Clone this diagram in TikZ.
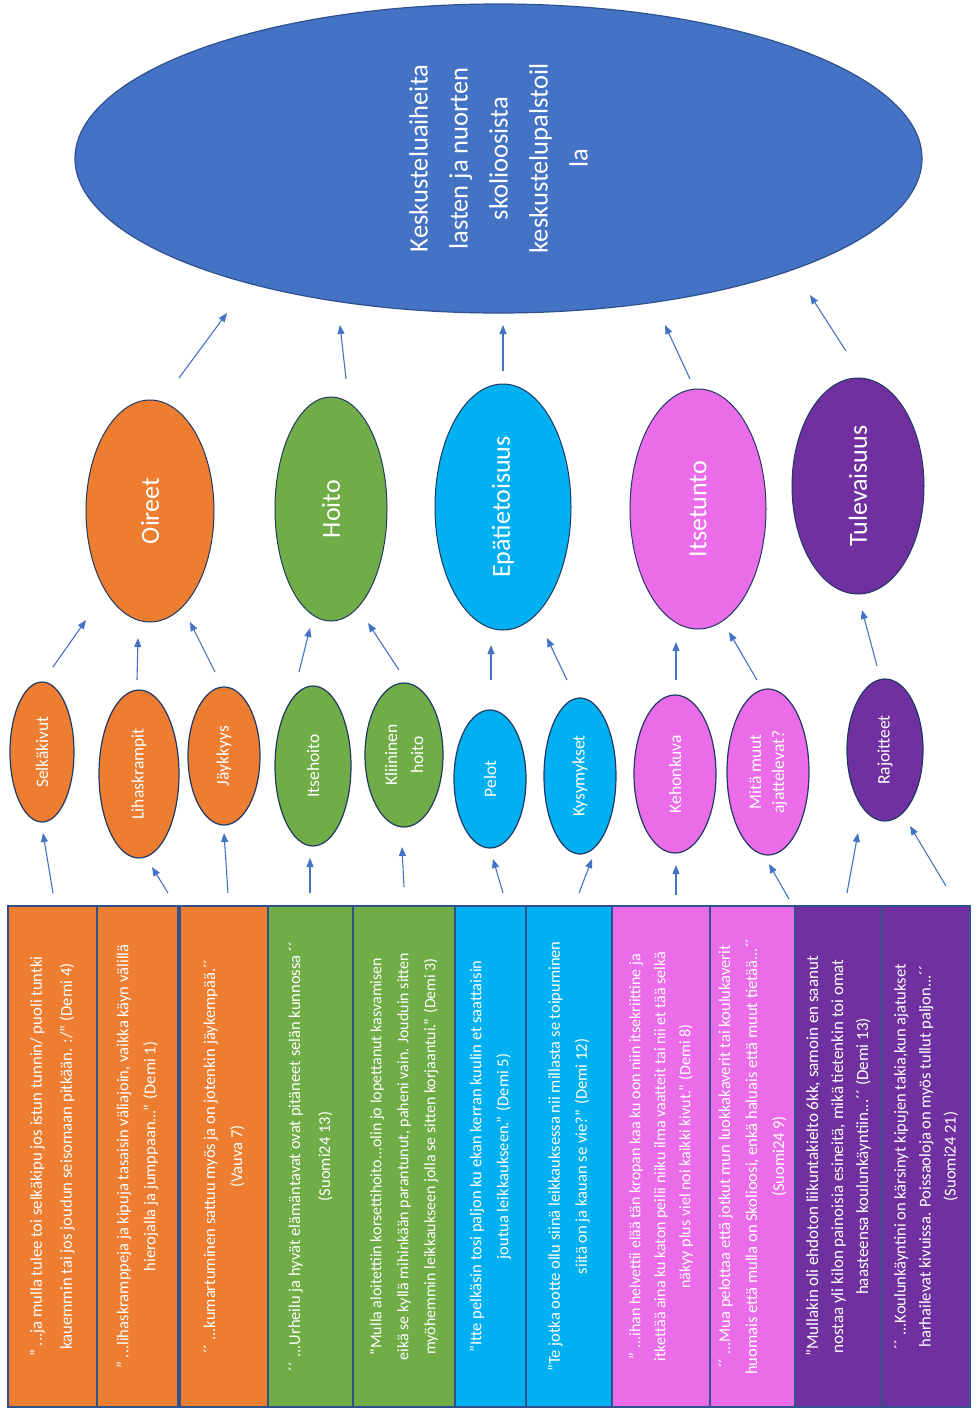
\documentclass[tikz,border=0pt]{standalone}
\usepackage{fontspec}
\setmainfont{Carlito}
\usetikzlibrary{arrows.meta,shapes.geometric}
\definecolor{corange}{HTML}{ED7D31}
\definecolor{cgreen}{HTML}{70AD47}
\definecolor{ccyan}{HTML}{00B0F0}
\definecolor{cpink}{HTML}{EB6CE8}
\definecolor{cpurple}{HTML}{7030A0}
\definecolor{cblue}{HTML}{4472C4}
\definecolor{cedge}{HTML}{2F528F}
\definecolor{cdark}{HTML}{203864}
\begin{document}
\begin{tikzpicture}[x=1pt,y=-1pt,
  arr/.style={draw=cblue, line width=1.1pt, -{Triangle[length=9pt,width=7pt]}},
  quotebox/.style={draw=cedge, line width=1.3pt, rotate=90, minimum width=501pt,
    text=white, align=center, font=\fontsize{16.5}{27}\selectfont, inner sep=0pt},
  smallell/.style={ellipse, draw=cdark, line width=1.2pt, rotate=90, text=white,
    align=center, font=\fontsize{17.5}{26}\selectfont, inner sep=0pt},
  midell/.style={ellipse, draw=cdark, line width=1pt, rotate=90, text=white,
    align=center, font=\fontsize{26}{30}\selectfont, inner sep=0pt},
  bigell/.style={ellipse, draw=cedge, line width=1.2pt, fill=cblue, rotate=90, text=white,
    align=center, font=\fontsize{26.5}{40}\selectfont, inner sep=0pt}
]
\useasboundingbox[fill=white] (0,0) rectangle (977,1417);

% big ellipse
\node[bigell, minimum width=309pt, minimum height=847pt] (top) at (498.5,158.5)
  {Keskusteluaiheita\\lasten ja nuorten\\skolioosista\\keskustelupalstoil\\la};

% mid ellipses
\node[midell, fill=corange, minimum width=222pt, minimum height=128pt] (oireet) at (150,511) {Oireet};
\node[midell, fill=cgreen, minimum width=224pt, minimum height=112pt] (hoito) at (331,509) {Hoito};
\node[midell, fill=ccyan, minimum width=246pt, minimum height=136pt] (epa) at (503,507) {Epätietoisuus};
\node[midell, fill=cpink, minimum width=240pt, minimum height=136pt] (itsetunto) at (698,509) {Itsetunto};
\node[midell, fill=cpurple, minimum width=216pt, minimum height=132pt] (tulev) at (858,486) {Tulevaisuus};

% small ellipses
\node[smallell, fill=corange, minimum width=140pt, minimum height=64pt] (selk) at (42,752) {Selkäkivut};
\node[smallell, fill=corange, minimum width=168pt, minimum height=80pt] (lihas) at (139,774) {Lihaskrampit};
\node[smallell, fill=corange, minimum width=138pt, minimum height=72pt] (jayk) at (224,756) {Jäykkyys};
\node[smallell, fill=cgreen, minimum width=160pt, minimum height=76pt] (itseh) at (313,766) {Itsehoito};
\node[smallell, fill=cgreen, minimum width=144pt, minimum height=78pt] (klin) at (404,755) {Kliininen\\hoito};
\node[smallell, fill=ccyan, minimum width=138pt, minimum height=72pt] (pelot) at (490,779) {Pelot};
\node[smallell, fill=ccyan, minimum width=156pt, minimum height=72pt] (kysy) at (580,776) {Kysymykset};
\node[smallell, fill=cpink, minimum width=158pt, minimum height=82pt] (keho) at (675,774) {Kehonkuva};
\node[smallell, fill=cpink, minimum width=166pt, minimum height=82pt, font=\fontsize{17.5}{23}\selectfont] (mita) at (768,772) {Mitä muut\\ajattelevat?};
\node[smallell, fill=cpurple, minimum width=142pt, minimum height=76pt] (raj) at (885,750) {Rajoitteet};

% quote boxes
\node[quotebox, fill=corange, minimum height=89pt, font=\fontsize{16.7}{30}\selectfont] (b1) at (52.5,1156.5)
  {” ...ja mulla tulee toi selkäkipu jos istun tunnin/ puoli tuntki\\kauemmin tai jos joudun seisomaan pitkään. :/” (Demi 4)};
\node[quotebox, fill=corange, minimum height=81pt] (b2) at (137.5,1156.5)
  {” ...lihaskramppeja ja kipuja tasaisin väliajoin, vaikka käyn välillä\\hierojalla ja jumppaan...” (Demi 1)};
\node[quotebox, fill=corange, minimum height=88pt] (b3) at (224,1156.5)
  {´´ ...kumartuminen sattuu myös ja on jotenkin jäykempää.´´\\(Vauva 7)};
\node[quotebox, fill=cgreen, minimum height=85pt, font=\fontsize{16.5}{30}\selectfont] (b4) at (310.5,1156.5)
  {´´ ...Urheilu ja hyvät elämäntavat ovat pitäneet selän kunnossa ´´\\(Suomi24 13)};
\node[quotebox, fill=cgreen, minimum height=102pt, font=\fontsize{16}{27}\selectfont] (b5) at (404,1156.5)
  {”Mulla aloitettiin korsettihoito...olin jo lopettanut kasvamisen\\eikä se kyllä mihinkään parantunut, paheni vain. Jouduin sitten\\myöhemmin leikkaukseen jolla se sitten korjaantui.” (Demi 3)};
\node[quotebox, fill=ccyan, minimum height=71pt] (b6) at (490.5,1156.5)
  {”Itte pelkäsin tosi paljon ku ekan kerran kuulin et saattaisin\\joutua leikkaukseen.” (Demi 5)};
\node[quotebox, fill=ccyan, minimum height=86pt] (b7) at (569,1156.5)
  {”Te jotka ootte ollu siinä leikkauksessa nii millasta se toipuminen\\siitä on ja kauan se vie?” (Demi 12)};
\node[quotebox, fill=cpink, minimum height=98pt, font=\fontsize{16}{25}\selectfont] (b8) at (661,1156.5)
  {” ...ihan helvettii elää tän kropan kaa ku oon niin itsekriittine ja\\itkettää aina ku katon peilii niiku ilma vaatteit tai nii et tää selkä\\näkyy plus viel noi kaikki kivut.” (Demi 8)};
\node[quotebox, fill=cpink, minimum height=85pt] (b9) at (752.5,1156.5)
  {´´ ...Mua pelottaa että jotkut mun luokkakaverit tai koulukaverit\\huomais että mulla on Skolioosi, enkä haluais että muut tietää...´´\\(Suomi24 9)};
\node[quotebox, fill=cpurple, minimum height=87pt, font=\fontsize{17}{25}\selectfont] (b10) at (838.5,1156.5)
  {”Mullakin oli ehdoton liikuntakielto 6kk, samoin en saanut\\nostaa yli kilon painoisia esineitä, mikä tietenkin toi omat\\haasteensa koulunkäyntiin...´´ (Demi 13)};
\node[quotebox, fill=cpurple, minimum height=88pt, font=\fontsize{16.5}{25}\selectfont] (b11) at (926,1156.5)
  {´´ ...Koulunkäyntini on kärsinyt kipujen takia,kun ajatukset\\harhailevat kivuissa. Poissaoloja on myös tullut paljon...´´\\(Suomi24 21)};

% arrow end points (free ends between nodes)
\coordinate (oireet-t) at (179,378);   \coordinate (top-h1) at (227,313);
\coordinate (hoito-t) at (346,379);    \coordinate (top-h2) at (340,325);
\coordinate (epa-t) at (503,371);      \coordinate (top-h3) at (503,325);
\coordinate (itsetunto-t) at (690,379);\coordinate (top-h4) at (665,325);
\coordinate (tulev-t) at (846,351);    \coordinate (top-h5) at (810,295);

\coordinate (selk-t) at (53,667);   \coordinate (oireet-h1) at (86,620);
\coordinate (lihas-t) at (137,680); \coordinate (oireet-h2) at (138,638);
\coordinate (jayk-t) at (215,672);  \coordinate (oireet-h3) at (190,622);
\coordinate (itseh-t) at (299,672); \coordinate (hoito-h1) at (310,628);
\coordinate (klin-t) at (399,670);  \coordinate (hoito-h2) at (368,623);
\coordinate (pelot-t) at (491,680); \coordinate (epa-h1) at (491,645);
\coordinate (kysy-t) at (567,680);  \coordinate (epa-h2) at (547,638);
\coordinate (keho-t) at (676,680);  \coordinate (itsetunto-h1) at (676,642);
\coordinate (mita-t) at (757,680);  \coordinate (itsetunto-h2) at (729,632);
\coordinate (raj-t) at (877,666);   \coordinate (tulev-h) at (862,610);

\coordinate (b1-t) at (53,893);   \coordinate (selk-h) at (43,833);
\coordinate (b2-t) at (168,893);  \coordinate (lihas-h) at (152,867);
\coordinate (b3-t) at (228,893);  \coordinate (jayk-h) at (224,833);
\coordinate (b4-t) at (310,893);  \coordinate (itseh-h) at (310,858);
\coordinate (b5-t) at (404,887);  \coordinate (klin-h) at (402,847);
\coordinate (b6-t) at (503,893);  \coordinate (pelot-h) at (493,859);
\coordinate (b7-t) at (579,893);  \coordinate (kysy-h) at (592,859);
\coordinate (b8-t) at (676,895);  \coordinate (keho-h) at (676,865);
\coordinate (b9-t) at (789,899);  \coordinate (mita-h) at (769,864);
\coordinate (b10-t) at (847,893); \coordinate (raj-h1) at (858,833);
\coordinate (b11-t) at (946,886); \coordinate (raj-h2) at (910,826);

% arrows
\foreach \a/\b in {oireet-t/top-h1, hoito-t/top-h2, epa-t/top-h3, itsetunto-t/top-h4, tulev-t/top-h5,
  selk-t/oireet-h1, lihas-t/oireet-h2, jayk-t/oireet-h3, itseh-t/hoito-h1, klin-t/hoito-h2,
  pelot-t/epa-h1, kysy-t/epa-h2, keho-t/itsetunto-h1, mita-t/itsetunto-h2, raj-t/tulev-h,
  b1-t/selk-h, b2-t/lihas-h, b3-t/jayk-h, b4-t/itseh-h, b5-t/klin-h, b6-t/pelot-h,
  b7-t/kysy-h, b8-t/keho-h, b9-t/mita-h, b10-t/raj-h1, b11-t/raj-h2}
  \draw[arr] (\a) -- (\b);
\end{tikzpicture}
\end{document}
